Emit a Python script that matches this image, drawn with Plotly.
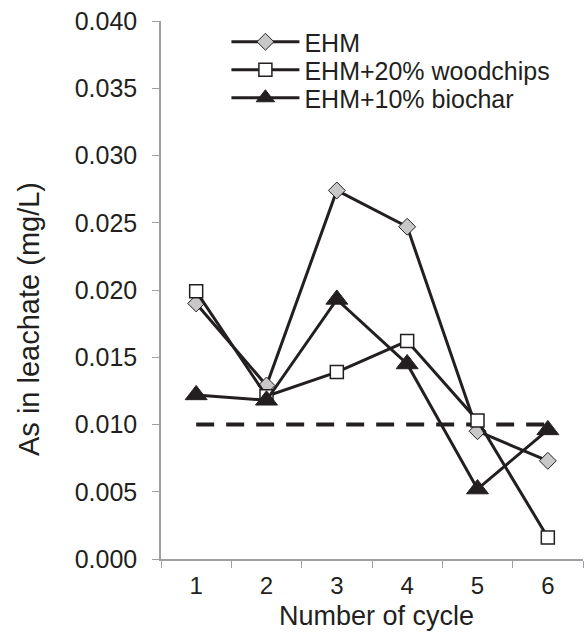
import plotly.graph_objects as go

cycles = ["1", "2", "3", "4", "5", "6"]
ehm = [0.0190, 0.0129, 0.0274, 0.0247, 0.0095, 0.0073]
woodchips = [0.0199, 0.0121, 0.0139, 0.0162, 0.0103, 0.0016]
biochar = [0.0122, 0.0118, 0.0193, 0.0145, 0.0052, 0.0096]
limit = [0.010] * 6

ink = "#231f20"
axis_gray = "#a0a0a4"

fig = go.Figure()
fig.add_trace(go.Scatter(x=cycles, y=limit, mode="lines", showlegend=False,
                         line=dict(color=ink, width=4, dash="18px,12px")))
fig.add_trace(go.Scatter(x=cycles, y=ehm, mode="lines+markers", name="EHM",
                         legend="legend",
                         line=dict(color=ink, width=3),
                         marker=dict(symbol="diamond", size=13, color="#c8c8c8",
                                     line=dict(color=ink, width=1))))
fig.add_trace(go.Scatter(x=cycles, y=woodchips, mode="lines+markers", name="EHM+20% woodchips",
                         legend="legend2",
                         line=dict(color=ink, width=3),
                         marker=dict(symbol="square", size=13, color="white",
                                     line=dict(color=ink, width=1.5))))
fig.add_trace(go.Scatter(x=cycles, y=biochar, mode="lines+markers", name="EHM+10% biochar",
                         legend="legend3",
                         line=dict(color=ink, width=3),
                         marker=dict(symbol="triangle-up", size=19, color=ink,
                                     line=dict(color=ink, width=1))))

def leg(row_y):
    return dict(x=0.155, y=1 - (row_y - 21) / 538, xanchor="left", yanchor="middle",
                bgcolor="rgba(0,0,0,0)", font=dict(size=25), itemwidth=68)

fig.update_layout(
    width=584, height=632,
    margin=dict(l=161, r=1, t=21, b=73),
    plot_bgcolor="white", paper_bgcolor="white",
    font=dict(family="Liberation Sans, Arial, sans-serif", size=25, color=ink),
    showlegend=True,
    legend=leg(42), legend2=leg(70), legend3=leg(98),
    xaxis=dict(type="category", range=[-0.5, 5.5], showline=True, linecolor=axis_gray,
               linewidth=1.5, ticks="outside", tickson="boundaries", ticklen=7,
               tickcolor=axis_gray, showgrid=False, zeroline=False,
               ticklabelstandoff=4, tickfont=dict(size=24)),
    yaxis=dict(range=[0, 0.040], tickvals=[i * 0.005 for i in range(9)],
               tickformat=".3f", showline=True, linecolor=axis_gray, linewidth=1.5,
               ticks="outside", ticklen=7, tickcolor=axis_gray, showgrid=False,
               zeroline=False, ticklabelstandoff=10),
    annotations=[
        dict(text="Number of cycle", xref="paper", yref="paper",
             x=0.511, y=1 - (616 - 21) / 538, xanchor="center", yanchor="middle",
             showarrow=False, font=dict(size=27)),
        dict(text="As in leachate (mg/L)", xref="paper", yref="paper", textangle=-90,
             x=(29 - 161) / 422, y=1 - (319 - 21) / 538, xanchor="center", yanchor="middle",
             showarrow=False, font=dict(size=29)),
    ],
)

fig.write_html("out.html")
